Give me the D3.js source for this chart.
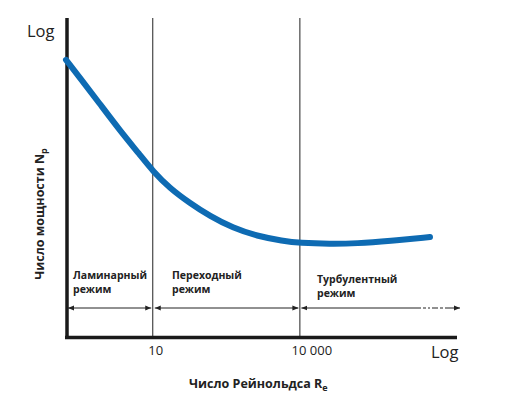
<!DOCTYPE html>
<html><head><meta charset="utf-8">
<script src="https://cdn.jsdelivr.net/npm/d3@7"></script>
<style>body{margin:0;background:#fff}svg{display:block}text{font-family:"Open Sans",sans-serif}</style>
</head><body><svg id="c" width="513" height="398"></svg>
<script>
// Data
const reynolds = [0.17, 0.33, 0.84, 2.1, 5.5, 10, 22, 57, 146, 430, 1330, 4500, 10000, 41000, 145000, 680000, 4500000];
const powerNumber = [40.3, 27.3, 15.5, 8.85, 5.15, 3.64, 2.52, 1.82, 1.37, 1.06, 0.89, 0.80, 0.766, 0.75, 0.758, 0.80, 0.87];
const tickValues = [10, 10000];
const tickLabels = ["10", "10 000"];
const regimeBounds = [0.17, 10, 10000, 1.6e7];
const regimeLine1 = ["Ламинарный", "Переходный", "Турбулентный"];
const regimeLine2 = ["режим", "режим", "режим"];

const svg = d3.select("#c");
const x = d3.scaleLog().domain([0.17, 1.6e7]).range([66, 457]);
const y = d3.scaleLog().domain([0.1, 100]).range([337, 18]);

// vertical regime separators
svg.selectAll("line.sep").data(tickValues).enter().append("line")
  .attr("x1", d => x(d)).attr("x2", d => x(d))
  .attr("y1", y(100)).attr("y2", y(0.1))
  .attr("stroke", "#222").attr("stroke-width", 1);

// axes (thick lines)
svg.append("line").attr("x1", 67).attr("x2", 67).attr("y1", y(100)).attr("y2", 339)
  .attr("stroke", "#1a1a1a").attr("stroke-width", 3.5);
svg.append("line").attr("x1", 65).attr("x2", x(1.6e7)).attr("y1", 337.5).attr("y2", 337.5)
  .attr("stroke", "#1a1a1a").attr("stroke-width", 3.5);

// arrow markers
const defs = svg.append("defs");
defs.append("marker").attr("id", "ae").attr("viewBox", "0 0 10 10").attr("refX", 10).attr("refY", 5)
  .attr("markerWidth", 6).attr("markerHeight", 6).attr("markerUnits", "userSpaceOnUse").attr("orient", "auto")
  .append("path").attr("d", "M0,1L10,5L0,9Z").attr("fill", "#222");
defs.append("marker").attr("id", "as").attr("viewBox", "0 0 10 10").attr("refX", 0).attr("refY", 5)
  .attr("markerWidth", 6).attr("markerHeight", 6).attr("markerUnits", "userSpaceOnUse").attr("orient", "auto")
  .append("path").attr("d", "M10,1L0,5L10,9Z").attr("fill", "#222");

const ay = 308;
[0, 1].forEach(i => {
  svg.append("line").attr("x1", x(regimeBounds[i]) + 2).attr("x2", x(regimeBounds[i + 1]) - 1.5)
    .attr("y1", ay).attr("y2", ay).attr("stroke", "#222").attr("stroke-width", 1)
    .attr("marker-start", "url(#as)").attr("marker-end", "url(#ae)");
});
const t0 = x(regimeBounds[2]) + 1.5, tEnd = 460;
svg.append("line").attr("x1", t0).attr("x2", 415).attr("y1", ay).attr("y2", ay)
  .attr("stroke", "#222").attr("stroke-width", 1).attr("marker-start", "url(#as)");
svg.append("line").attr("x1", 415).attr("x2", 446).attr("y1", ay).attr("y2", ay)
  .attr("stroke", "#222").attr("stroke-width", 1).attr("stroke-dasharray", "6,2,3,2,2,2");
svg.append("line").attr("x1", 446).attr("x2", tEnd).attr("y1", ay).attr("y2", ay)
  .attr("stroke", "#222").attr("stroke-width", 1).attr("marker-end", "url(#ae)");

// regime labels
const lblX = [73, 172, 317];
const lblY = [279, 279, 283];
regimeLine1.forEach((t, i) => {
  const g = svg.append("text").attr("x", lblX[i]).attr("y", lblY[i])
    .attr("font-size", 10.5).attr("font-weight", "bold").attr("fill", "#222");
  g.append("tspan").attr("x", lblX[i]).text(t);
  g.append("tspan").attr("x", lblX[i]).attr("dy", 14).text(regimeLine2[i]);
});

// curve
const line = d3.line().x((d, i) => x(reynolds[i])).y((d, i) => y(powerNumber[i])).curve(d3.curveBasis);
svg.append("path").datum(powerNumber).attr("d", line)
  .attr("fill", "none").attr("stroke", "#0e6bb3").attr("stroke-width", 6).attr("stroke-linecap", "round");

// tick labels
const tickDx = [3, 12];
svg.selectAll("text.tick").data(tickValues).enter().append("text")
  .attr("x", (d, i) => x(d) + tickDx[i]).attr("y", 355).attr("text-anchor", "middle")
  .attr("font-size", 13).attr("fill", "#222").text((d, i) => tickLabels[i]);

// Log labels
svg.append("text").attr("x", 27).attr("y", 37).attr("font-size", 16.5).attr("fill", "#222").text("Log");
svg.append("text").attr("x", 431).attr("y", 358).attr("font-size", 16.5).attr("fill", "#222").text("Log");

// axis titles
const xt = svg.append("text").attr("x", 189).attr("y", 388).attr("font-size", 12.5).attr("font-weight", "bold").attr("fill", "#222");
xt.append("tspan").text("Число Рейнольдса R");
xt.append("tspan").attr("font-size", 9).attr("dy", 3).text("e");

const yt = svg.append("text").attr("transform", "translate(44,214) rotate(-90)").attr("text-anchor", "middle")
  .attr("font-size", 12.5).attr("font-weight", "bold").attr("fill", "#222");
yt.append("tspan").text("Число мощности N");
yt.append("tspan").attr("font-size", 9).attr("dy", 3).text("p");
</script></body></html>
